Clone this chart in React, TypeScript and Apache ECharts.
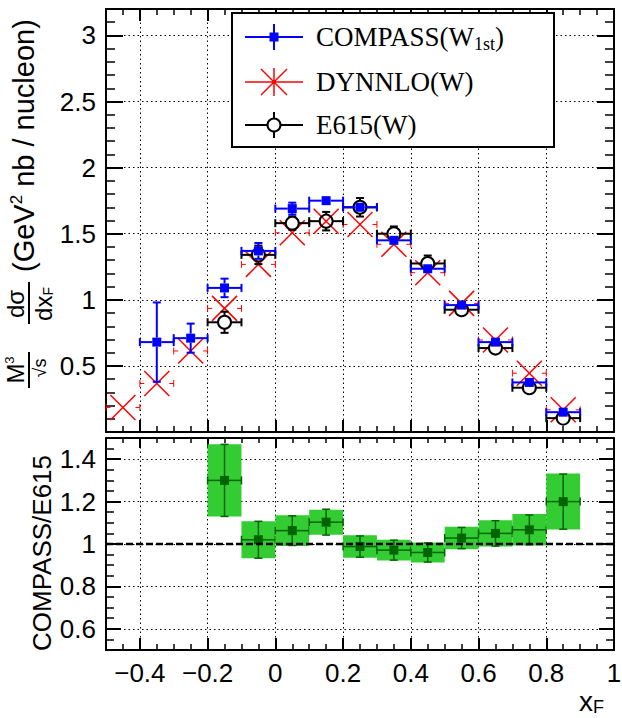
import React, { useEffect, useRef } from "react";
import * as echarts from "echarts";

// ---------- data ----------
const binHalfWidth = 0.05;

const compassX = [-0.35, -0.25, -0.15, -0.05, 0.05, 0.15, 0.25, 0.35, 0.45, 0.55, 0.65, 0.75, 0.85];
const compassY = [0.68, 0.71, 1.09, 1.37, 1.69, 1.75, 1.7, 1.45, 1.235, 0.96, 0.68, 0.375, 0.15];
const compassErr = [0.3, 0.11, 0.07, 0.06, 0.045, 0.03, 0.03, 0.03, 0.03, 0.02, 0.02, 0.02, 0.02];

const dynnloX = [-0.45, -0.35, -0.25, -0.15, -0.05, 0.05, 0.15, 0.25, 0.35, 0.45, 0.55, 0.65, 0.75, 0.85];
const dynnloY = [0.186, 0.367, 0.613, 0.935, 1.268, 1.507, 1.594, 1.57, 1.42, 1.205, 0.973, 0.696, 0.445, 0.168];

const e615X = [-0.15, -0.05, 0.05, 0.15, 0.25, 0.35, 0.45, 0.55, 0.65, 0.75, 0.85];
const e615Y = [0.83, 1.34, 1.58, 1.595, 1.7, 1.5, 1.275, 0.925, 0.635, 0.335, 0.105];
const e615Err = [0.08, 0.07, 0.05, 0.07, 0.07, 0.055, 0.06, 0.03, 0.03, 0.03, 0.03];

const ratioX = [-0.15, -0.05, 0.05, 0.15, 0.25, 0.35, 0.45, 0.55, 0.65, 0.75, 0.85];
const ratioY = [1.3, 1.02, 1.063, 1.103, 0.988, 0.971, 0.96, 1.028, 1.05, 1.067, 1.2];
const ratioStatErr = [0.17, 0.087, 0.07, 0.061, 0.05, 0.047, 0.045, 0.05, 0.06, 0.07, 0.13];
const ratioSysErr = [0.17, 0.087, 0.073, 0.059, 0.053, 0.049, 0.047, 0.053, 0.062, 0.074, 0.132];

const xRange = [-0.5, 1.0];
const topYRange = [0, 3.2];
const bottomYRange = [0.5, 1.5];
const referenceLine = 1;

// ---------- helpers ----------
type Marker = "square" | "circle" | "x" | "none";
interface RenderOpts {
  color: string;
  marker: Marker;
  half: number;
  lineWidth: number;
  cap: number;
  markerColor?: string;
  markerWidth?: number;
  box?: string;
  vertical?: boolean;
}

function makeRender(o: RenderOpts) {
  return (_params: any, api: any) => {
    const x = api.value(0);
    const y = api.value(1);
    const ex = api.value(2);
    const ey = api.value(3);
    const bx = api.value(4);
    const c = api.coord([x, y]);
    const L = api.coord([x - ex, y])[0];
    const R = api.coord([x + ex, y])[0];
    const T = api.coord([x, y + ey])[1];
    const B = api.coord([x, y - ey])[1];
    const h = o.half;
    const children: any[] = [];
    const ls = { stroke: o.color, lineWidth: o.lineWidth };
    const seg = (x1: number, y1: number, x2: number, y2: number) =>
      children.push({ type: "line", shape: { x1, y1, x2, y2 }, style: ls });
    if (o.box) {
      const bt = api.coord([x, y + bx])[1];
      const bb = api.coord([x, y - bx])[1];
      children.push({
        type: "rect",
        shape: { x: L, y: bt, width: R - L, height: bb - bt },
        style: { fill: o.box },
      });
    }
    if (c[0] - h > L) seg(L, c[1], c[0] - h, c[1]);
    if (R > c[0] + h) seg(c[0] + h, c[1], R, c[1]);
    seg(L, c[1] - o.cap, L, c[1] + o.cap);
    seg(R, c[1] - o.cap, R, c[1] + o.cap);
    if (o.vertical !== false) {
      if (c[1] - h > T) {
        seg(c[0], T, c[0], c[1] - h);
        seg(c[0] - o.cap, T, c[0] + o.cap, T);
      }
      if (B > c[1] + h) {
        seg(c[0], c[1] + h, c[0], B);
        seg(c[0] - o.cap, B, c[0] + o.cap, B);
      }
    }
    const mc = o.markerColor || o.color;
    if (o.marker === "square") {
      children.push({
        type: "rect",
        shape: { x: c[0] - h, y: c[1] - h, width: 2 * h, height: 2 * h },
        style: { fill: mc },
      });
    } else if (o.marker === "circle") {
      children.push({
        type: "circle",
        shape: { cx: c[0], cy: c[1], r: h },
        style: { fill: "none", stroke: mc, lineWidth: o.markerWidth || 2 },
      });
    } else if (o.marker === "x") {
      const ms = { stroke: mc, lineWidth: o.markerWidth || 1.5 };
      children.push({ type: "line", shape: { x1: c[0] - h, y1: c[1] - h, x2: c[0] + h, y2: c[1] + h }, style: ms });
      children.push({ type: "line", shape: { x1: c[0] - h, y1: c[1] + h, x2: c[0] + h, y2: c[1] - h }, style: ms });
    }
    return { type: "group", children };
  };
}

const fmtNum = (v: number) => {
  const r = Math.round(v * 100) / 100;
  return r < 0 ? "\u2212" + Math.abs(r) : String(r);
};

const gridLine = { show: true, lineStyle: { color: "#000", width: 1, type: [1.5, 3] as any } };
const frameLine = { show: true, onZero: false, lineStyle: { color: "#000", width: 2 } };
const labelFont = { fontFamily: "Liberation Sans, Arial, sans-serif", fontSize: 26, color: "#000" };

function xAx(gridIndex: number, position: string, labels: boolean, split: boolean, major: number, minor: number) {
  return {
    type: "value",
    gridIndex,
    position,
    min: xRange[0],
    max: xRange[1],
    splitNumber: 7,
    axisLine: frameLine,
    axisTick: { show: true, inside: true, length: major, lineStyle: { color: "#000", width: 2 } },
    minorTick: { show: true, splitNumber: 4, length: minor, lineStyle: { color: "#000", width: 1.5 } },
    minorSplitLine: { show: false },
    axisLabel: { show: labels, ...labelFont, margin: 10, showMinLabel: false, showMaxLabel: true, formatter: fmtNum },
    splitLine: split ? gridLine : { show: false },
  };
}

function yAx(gridIndex: number, position: string, labels: boolean, range: number[], extra: any, major: number, minor: number, minorSplit: number) {
  return {
    type: "value",
    gridIndex,
    position,
    min: range[0],
    max: range[1],
    ...extra,
    axisLine: frameLine,
    axisTick: { show: true, inside: true, length: major, lineStyle: { color: "#000", width: 2 } },
    minorTick: { show: true, splitNumber: minorSplit, length: minor, lineStyle: { color: "#000", width: 1.5 } },
    axisLabel: { show: labels, ...labelFont, margin: 10, showMinLabel: false, showMaxLabel: false, formatter: fmtNum },
    splitLine: labels ? gridLine : { show: false },
  };
}

export default function App() {
  const ref = useRef<HTMLDivElement>(null);
  useEffect(() => {
    if (!ref.current) return;
    const chart = echarts.init(ref.current, undefined, { renderer: "svg" });

    const serifFont = "Liberation Serif, Times New Roman, serif";
    const sansFont = "Liberation Sans, Arial, sans-serif";
    const legendRows = [37, 82, 125];
    const lx0 = 245, lx1 = 303, lxc = 274;
    const legendFont = 27;

    const graphic: any[] = [
      // legend box
      { type: "rect", z: 100, shape: { x: 232, y: 13, width: 322, height: 134 }, style: { fill: "#fff", stroke: "#000", lineWidth: 2 } },
      // COMPASS entry
      { type: "line", z: 101, shape: { x1: lx0, y1: legendRows[0], x2: lx1, y2: legendRows[0] }, style: { stroke: "#0000ff", lineWidth: 2 } },
      { type: "line", z: 101, shape: { x1: lxc, y1: legendRows[0] - 13, x2: lxc, y2: legendRows[0] + 13 }, style: { stroke: "#0000ff", lineWidth: 2 } },
      { type: "rect", z: 102, shape: { x: lxc - 4.5, y: legendRows[0] - 4.5, width: 9, height: 9 }, style: { fill: "#0000ff" } },
      // DYNNLO entry
      { type: "line", z: 101, shape: { x1: lx0, y1: legendRows[1], x2: lx1, y2: legendRows[1] }, style: { stroke: "#ff0000", lineWidth: 1.5 } },
      { type: "line", z: 101, shape: { x1: lxc, y1: legendRows[1] - 14, x2: lxc, y2: legendRows[1] + 14 }, style: { stroke: "#ff0000", lineWidth: 1.5 } },
      { type: "line", z: 101, shape: { x1: lxc - 13, y1: legendRows[1] - 13, x2: lxc + 13, y2: legendRows[1] + 13 }, style: { stroke: "#ff0000", lineWidth: 1.5 } },
      { type: "line", z: 101, shape: { x1: lxc - 13, y1: legendRows[1] + 13, x2: lxc + 13, y2: legendRows[1] - 13 }, style: { stroke: "#ff0000", lineWidth: 1.5 } },
      { type: "circle", z: 102, shape: { cx: lxc, cy: legendRows[1], r: 2 }, style: { fill: "#ff0000" } },
      // E615 entry
      { type: "line", z: 101, shape: { x1: lx0, y1: legendRows[2], x2: lxc - 6.5, y2: legendRows[2] }, style: { stroke: "#000", lineWidth: 2 } },
      { type: "line", z: 101, shape: { x1: lxc + 6.5, y1: legendRows[2], x2: lx1, y2: legendRows[2] }, style: { stroke: "#000", lineWidth: 2 } },
      { type: "line", z: 101, shape: { x1: lxc, y1: legendRows[2] - 13, x2: lxc, y2: legendRows[2] - 6.5 }, style: { stroke: "#000", lineWidth: 2 } },
      { type: "line", z: 101, shape: { x1: lxc, y1: legendRows[2] + 6.5, x2: lxc, y2: legendRows[2] + 13 }, style: { stroke: "#000", lineWidth: 2 } },
      { type: "circle", z: 102, shape: { cx: lxc, cy: legendRows[2], r: 6.5 }, style: { fill: "none", stroke: "#000", lineWidth: 2 } },
      // legend texts
      {
        type: "text", z: 103, x: 316, y: legendRows[0],
        style: {
          text: "{a|COMPASS(W}{s|1st}{a|)}", textAlign: "left", align: "left", textVerticalAlign: "middle", verticalAlign: "middle",
          rich: {
            a: { fontFamily: serifFont, fontSize: legendFont, fill: "#000", color: "#000", lineHeight: 31 },
            s: { fontFamily: serifFont, fontSize: 18, fill: "#000", color: "#000", verticalAlign: "bottom", lineHeight: 18 },
          },
        },
      },
      { type: "text", z: 103, x: 316, y: legendRows[1], style: { text: "DYNNLO(W)", fontFamily: serifFont, fontSize: legendFont, fill: "#000", textAlign: "left", align: "left", textVerticalAlign: "middle", verticalAlign: "middle" } },
      { type: "text", z: 103, x: 316, y: legendRows[2], style: { text: "E615(W)", fontFamily: serifFont, fontSize: legendFont, fill: "#000", textAlign: "left", align: "left", textVerticalAlign: "middle", verticalAlign: "middle" } },
      // x axis title
      {
        type: "text", x: 604, y: 686,
        style: {
          text: "{a|x}{s|F}", textAlign: "right", align: "right", textVerticalAlign: "top", verticalAlign: "top",
          rich: {
            a: { fontFamily: sansFont, fontSize: 28, fill: "#000", color: "#000", lineHeight: 30 },
            s: { fontFamily: sansFont, fontSize: 18, fill: "#000", color: "#000", verticalAlign: "bottom", lineHeight: 18 },
          },
        },
      },
      // bottom y title
      {
        type: "text", x: 42, y: 553, rotation: Math.PI / 2,
        style: { text: "COMPASS/E615", fontFamily: sansFont, fontSize: 26, fill: "#000", textAlign: "center", align: "center", textVerticalAlign: "middle", verticalAlign: "middle" },
      },
      // top y title (rotated group)
      {
        type: "group", x: 22, y: 400, rotation: Math.PI / 2,
        children: [
          {
            type: "text", x: 30, y: 5,
            style: {
              text: "{a|M}{s|3}", textAlign: "center", align: "center", textVerticalAlign: "bottom", verticalAlign: "bottom",
              rich: {
                a: { fontFamily: sansFont, fontSize: 24, fill: "#000", color: "#000", lineHeight: 24 },
                s: { fontFamily: sansFont, fontSize: 13, fill: "#000", color: "#000", verticalAlign: "top", lineHeight: 13 },
              },
            },
          },
          { type: "line", shape: { x1: 12, y1: 7, x2: 48, y2: 7 }, style: { stroke: "#000", lineWidth: 2 } },
          { type: "text", x: 32, y: 9, style: { text: "\u221As", fontFamily: sansFont, fontSize: 18, fill: "#000", textAlign: "center", align: "center", textVerticalAlign: "top", verticalAlign: "top" } },
          { type: "text", x: 96, y: 5, style: { text: "d\u03C3", fontFamily: sansFont, fontSize: 24, fill: "#000", textAlign: "center", align: "center", textVerticalAlign: "bottom", verticalAlign: "bottom" } },
          { type: "line", shape: { x1: 76, y1: 7, x2: 118, y2: 7 }, style: { stroke: "#000", lineWidth: 2 } },
          {
            type: "text", x: 96, y: 9,
            style: {
              text: "{a|dx}{s|F}", textAlign: "center", align: "center", textVerticalAlign: "top", verticalAlign: "top",
              rich: {
                a: { fontFamily: sansFont, fontSize: 24, fill: "#000", color: "#000", lineHeight: 24 },
                s: { fontFamily: sansFont, fontSize: 14, fill: "#000", color: "#000", verticalAlign: "bottom", lineHeight: 14 },
              },
            },
          },
          {
            type: "text", x: 128, y: 2,
            style: {
              text: "{a|(GeV}{s|2}{a| nb / nucleon)}", textAlign: "left", align: "left", textVerticalAlign: "middle", verticalAlign: "middle",
              rich: {
                a: { fontFamily: sansFont, fontSize: 29, fill: "#000", color: "#000", lineHeight: 32 },
                s: { fontFamily: sansFont, fontSize: 17, fill: "#000", color: "#000", verticalAlign: "top", lineHeight: 17 },
              },
            },
          },
        ],
      },
    ];

    const option: any = {
      animation: false,
      backgroundColor: "#fff",
      grid: [
        { left: 106, top: 9, width: 508, height: 423, outerBoundsMode: "none", containLabel: false },
        { left: 106, top: 438, width: 508, height: 212, outerBoundsMode: "none", containLabel: false },
      ],
      xAxis: [
        xAx(0, "bottom", false, true, 12, 6),
        xAx(0, "top", false, false, 12, 6),
        xAx(1, "bottom", true, true, 12, 6),
        xAx(1, "top", false, false, 10, 5),
      ],
      yAxis: [
        yAx(0, "left", true, topYRange, { interval: 0.5 }, 17, 9, 5),
        yAx(0, "right", false, topYRange, { interval: 0.5 }, 17, 9, 5),
        yAx(1, "left", true, bottomYRange, { splitNumber: 5 }, 15, 8, 4),
        yAx(1, "right", false, bottomYRange, { splitNumber: 5 }, 15, 8, 4),
      ],
      series: [
        {
          type: "custom", name: "DYNNLO(W)", xAxisIndex: 0, yAxisIndex: 0, z: 3,
          renderItem: makeRender({ color: "#ff0000", marker: "x", half: 12.5, lineWidth: 1, cap: 3.5, markerWidth: 1.5, vertical: false }),
          data: dynnloX.map((x, i) => [x, dynnloY[i], binHalfWidth, 0, 0]),
        },
        {
          type: "custom", name: "E615(W)", xAxisIndex: 0, yAxisIndex: 0, z: 4,
          renderItem: makeRender({ color: "#000", marker: "circle", half: 6.5, lineWidth: 2, cap: 4, markerWidth: 2 }),
          data: e615X.map((x, i) => [x, e615Y[i], binHalfWidth, e615Err[i], 0]),
        },
        {
          type: "custom", name: "COMPASS(W1st)", xAxisIndex: 0, yAxisIndex: 0, z: 5,
          renderItem: makeRender({ color: "#0000ff", marker: "square", half: 4.5, lineWidth: 2, cap: 4 }),
          data: compassX.map((x, i) => [x, compassY[i], binHalfWidth, compassErr[i], 0]),
        },
        {
          type: "custom", name: "COMPASS/E615", xAxisIndex: 2, yAxisIndex: 2, z: 3,
          renderItem: makeRender({ color: "#006400", marker: "square", half: 4.5, lineWidth: 1.5, cap: 4, box: "#33cc33" }),
          data: ratioX.map((x, i) => [x, ratioY[i], binHalfWidth, ratioStatErr[i], ratioSysErr[i]]),
        },
        {
          type: "line", xAxisIndex: 2, yAxisIndex: 2, z: 6, symbol: "none", silent: true,
          lineStyle: { color: "#000", width: 2.5, type: [7, 3] },
          data: [[xRange[0], referenceLine], [xRange[1], referenceLine]],
        },
      ],
      graphic,
    };
    chart.setOption(option);
    return () => chart.dispose();
  }, []);
  return <div ref={ref} style={{ position: "absolute", left: 0, top: 0, width: 622, height: 718, background: "#fff" }} />;
}
